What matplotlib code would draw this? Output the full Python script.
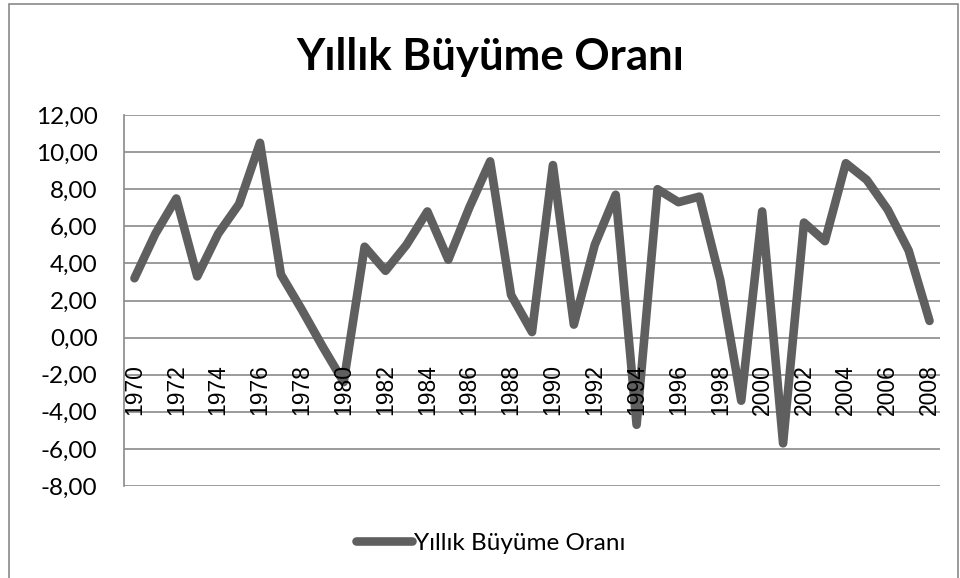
import matplotlib
matplotlib.use("Agg")
import matplotlib.pyplot as plt
import matplotlib.transforms as mtransforms
from matplotlib.patches import Rectangle
from matplotlib.ticker import FuncFormatter

# Yearly growth rate (%)
years = list(range(1970, 2009))
growth = [3.2, 5.6, 7.5, 3.3, 5.6, 7.2, 10.5, 3.4, 1.5, -0.5,
          -2.4, 4.9, 3.6, 5.0, 6.8, 4.2, 7.0, 9.5, 2.3, 0.3,
          9.3, 0.7, 5.0, 7.7, -4.7, 8.0, 7.3, 7.6, 3.1, -3.4,
          6.8, -5.7, 6.2, 5.2, 9.4, 8.5, 6.9, 4.7, 0.9]
year_ticks = list(range(1970, 2009, 2))
y_ticks = list(range(-8, 13, 2))

title = "Yıllık Büyüme Oranı"
series_name = "Yıllık Büyüme Oranı"

LINE_COLOR = "#5f5f5f"
GRID_COLOR = "#8a8a8a"


def tr_fmt(v, pos):
    return f"{v:.2f}".replace(".", ",")


def main():
    fig = plt.figure(figsize=(9.6, 5.78), dpi=100)
    ax = fig.add_axes([124 / 960, 1 - 486 / 578, (940 - 124) / 960, (486 - 115) / 578])

    ax.plot(years, growth, color=LINE_COLOR, linewidth=6.2,
            solid_capstyle="round", solid_joinstyle="round",
            label=series_name, zorder=3)

    ax.set_xlim(1969.5, 2008.5)
    ax.set_ylim(-8, 12)
    ax.set_yticks(y_ticks)
    ax.yaxis.set_major_formatter(FuncFormatter(tr_fmt))
    ax.grid(axis="y", color=GRID_COLOR, linewidth=1.2, zorder=1)
    ax.set_axisbelow(True)

    for s in ["top", "right", "bottom"]:
        ax.spines[s].set_visible(False)
    ax.spines["left"].set_color(GRID_COLOR)
    ax.spines["left"].set_linewidth(1.2)

    # year labels sit below the zero line and are drawn over the series
    ax.set_xticks([])
    offset = mtransforms.ScaledTranslation(0, -77 / 100, fig.dpi_scale_trans)
    for y in year_ticks:
        ax.text(y, 0, str(y), rotation=90, ha="center", va="bottom",
                fontsize=16.5, family="Liberation Sans",
                transform=ax.transData + offset, zorder=5)

    ax.tick_params(axis="y", length=0, pad=19, labelsize=17.5)
    for lab in ax.get_yticklabels():
        lab.set_family("Lato")

    fig.text(490 / 960, 1 - 57 / 578, title, ha="center", va="center",
             fontsize=31.5, fontweight="bold", family="Lato")

    leg = fig.legend(loc="center", bbox_to_anchor=(491 / 960, 1 - 543 / 578),
                     frameon=False, handlelength=2.3, handletextpad=0.1,
                     prop={"family": "Lato", "size": 17.5})
    for h in leg.get_lines():
        h.set_solid_capstyle("round")

    fig.patches.append(Rectangle((9 / 960, -0.01), 949 / 960, 1 - 4 / 578 + 0.01,
                                 transform=fig.transFigure, fill=False,
                                 edgecolor=GRID_COLOR, linewidth=1.2))

    fig.savefig("out.png", dpi=100)


if __name__ == "__main__":
    main()
